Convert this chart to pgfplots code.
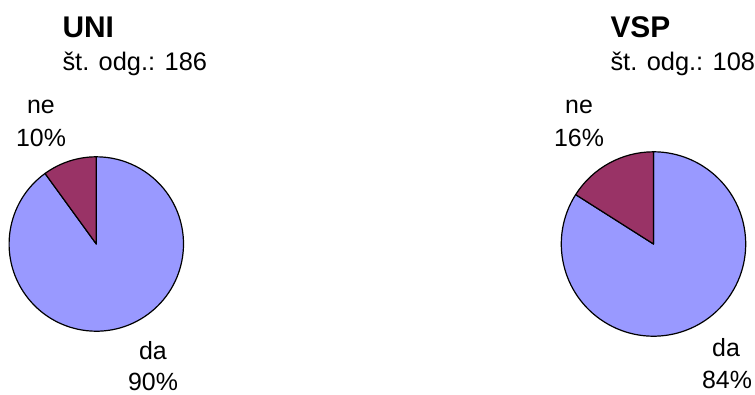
\documentclass[border=0pt]{standalone}
\usepackage{pgfplots}
\pgfplotsset{compat=1.18}
\usepackage{pgfplotstable}
\usepackage{fontspec}
\setmainfont{Liberation Sans}
\definecolor{cda}{HTML}{9999FF}
\definecolor{cne}{HTML}{993366}

\pgfplotstableread{
group n da ne cx cy r
UNI 186 90 10 96.3 150 87.2
VSP 108 84 16 653.5 150 92.2
}\piedata

\newcommand\getval[3]{\pgfplotstablegetelem{#1}{#2}\of\piedata\global\let#3\pgfplotsretval}
\getval{0}{ne}\neA \getval{0}{cx}\cxA \getval{0}{cy}\cyA \getval{0}{r}\rA
\getval{1}{ne}\neB \getval{1}{cx}\cxB \getval{1}{cy}\cyB \getval{1}{r}\rB
\pgfmathsetmacro\angA{90+3.6*\neA}
\pgfmathsetmacro\angB{90+3.6*\neB}

\begin{document}
\begin{tikzpicture}
\begin{axis}[
  x=1bp, y=1bp,
  xmin=0, xmax=755, ymin=0, ymax=394,
  hide axis, clip=false,
  every node/.style={inner sep=0pt},
]
\coordinate (BL) at (axis cs:0,0);
\coordinate (TR) at (axis cs:755,394);
% UNI pie
\filldraw[fill=cda, draw=black, line width=1.2bp, line join=round]
  (axis cs:\cxA,\cyA) -- ++(\angA:\rA bp) arc[start angle=\angA, end angle=450, radius=\rA bp] -- cycle;
\filldraw[fill=cne, draw=black, line width=1.2bp, line join=round]
  (axis cs:\cxA,\cyA) -- ++(90:\rA bp) arc[start angle=90, end angle=\angA, radius=\rA bp] -- cycle;
% VSP pie
\filldraw[fill=cda, draw=black, line width=1.2bp, line join=round]
  (axis cs:\cxB,\cyB) -- ++(\angB:\rB bp) arc[start angle=\angB, end angle=450, radius=\rB bp] -- cycle;
\filldraw[fill=cne, draw=black, line width=1.2bp, line join=round]
  (axis cs:\cxB,\cyB) -- ++(90:\rB bp) arc[start angle=90, end angle=\angB, radius=\rB bp] -- cycle;
% titles
\node[anchor=base west, font=\fontsize{30}{36}\selectfont\bfseries] at (axis cs:59,357) {UNI};
\node[anchor=base west, font=\fontsize{25.5}{30}\selectfont] at (axis cs:59,323.5) {št. odg.: 186};
\node[anchor=base west, font=\fontsize{30}{36}\selectfont\bfseries] at (axis cs:607,357) {VSP};
\node[anchor=base west, font=\fontsize{25.5}{30}\selectfont] at (axis cs:607,323.5) {št. odg.: 108};
% labels
\node[anchor=base, font=\fontsize{25}{29}\selectfont] at (axis cs:41,281) {ne};
\node[anchor=base, font=\fontsize{25}{29}\selectfont] at (axis cs:41,248) {10\%};
\node[anchor=base, font=\fontsize{25}{29}\selectfont] at (axis cs:153,35) {da};
\node[anchor=base, font=\fontsize{25}{29}\selectfont] at (axis cs:153,4) {90\%};
\node[anchor=base, font=\fontsize{25}{29}\selectfont] at (axis cs:579,281) {ne};
\node[anchor=base, font=\fontsize{25}{29}\selectfont] at (axis cs:579,248) {16\%};
\node[anchor=base, font=\fontsize{25}{29}\selectfont] at (axis cs:726,37.5) {da};
\node[anchor=base, font=\fontsize{25}{29}\selectfont] at (axis cs:727,6) {84\%};
\end{axis}
\pgfresetboundingbox
\path[use as bounding box] (BL) rectangle (TR);
\end{tikzpicture}
\end{document}
